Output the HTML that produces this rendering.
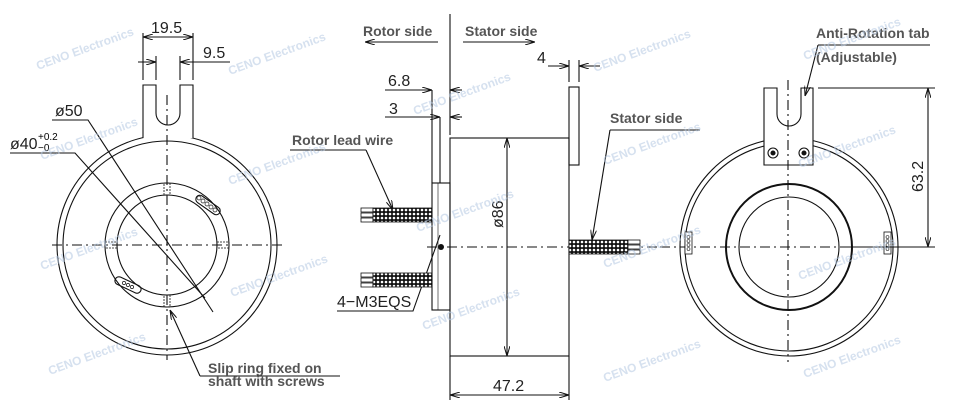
<!DOCTYPE html>
<html><head><style>
html,body{margin:0;padding:0;background:#fff;}
svg{display:block;}
text{font-family:"Liberation Sans",sans-serif;}
.b{font-weight:bold;fill:#555;font-size:14px;}
.d{fill:#222;font-size:16px;}
</style></head><body>
<svg width="953" height="418" viewBox="0 0 953 418" xmlns="http://www.w3.org/2000/svg">
<defs>
<pattern id="br" width="4" height="4" patternUnits="userSpaceOnUse">
<rect width="4" height="4" fill="#111"/><circle cx="2" cy="2" r="1.3" fill="#fff"/>
</pattern>
<marker id="a" markerWidth="10" markerHeight="6" refX="10" refY="3" orient="auto" markerUnits="userSpaceOnUse">
<path d="M0,0 L10,3 L0,6" fill="none" stroke="#111" stroke-width="1"/>
</marker>
</defs>
<g fill="none" stroke="#111" stroke-width="1.1">
<!-- LEFT VIEW -->
<circle cx="167" cy="245" r="110"/>
<circle cx="167" cy="245" r="104"/>
<circle cx="167" cy="245" r="62"/>
<circle cx="167" cy="245" r="50"/>
<path d="M143,138 V85 H156 V113 A12,12 0 0 0 180,113 V85 H193 V138" fill="#fff"/>
<line x1="167" y1="95" x2="167" y2="360" stroke-dasharray="10,4,2,4"/>
<line x1="52" y1="245" x2="285" y2="245" stroke-dasharray="10,4,2,4"/>
<line x1="143" y1="33" x2="143" y2="80"/><line x1="193" y1="33" x2="193" y2="80"/>
<line x1="156" y1="56" x2="156" y2="80"/><line x1="180" y1="56" x2="180" y2="80"/>
<line x1="168" y1="37" x2="143" y2="37" marker-end="url(#a)"/><line x1="168" y1="37" x2="193" y2="37" marker-end="url(#a)"/>
<line x1="138" y1="62" x2="156" y2="62" marker-end="url(#a)"/><line x1="230" y1="62" x2="180" y2="62" marker-end="url(#a)"/>
<polyline points="52,120 88,120 213,312"/>
<polyline points="10,153 75,153 205,298"/>
<line x1="340" y1="376" x2="200" y2="376"/><line x1="200" y1="376" x2="170" y2="310" marker-end="url(#a)"/>
<g stroke-width="0.8" stroke-dasharray="2,1">
<rect x="164" y="183" width="6" height="12"/><rect x="164" y="295" width="6" height="12"/>
<rect x="105" y="242" width="12" height="6"/><rect x="217" y="242" width="12" height="6"/>
</g>
<rect x="194" y="201" width="28" height="8" rx="4" transform="rotate(35 208 205)"/>
<rect x="114" y="281" width="28" height="8" rx="4" transform="rotate(25 128 285)"/>
<g stroke-width="0.7">
<circle cx="199" cy="198" r="2"/><circle cx="203" cy="201" r="2"/><circle cx="207" cy="204" r="2"/><circle cx="211" cy="207" r="2"/><circle cx="215" cy="210" r="2"/>
<circle cx="124" cy="283" r="1.6"/><circle cx="128" cy="285" r="1.6"/><circle cx="132" cy="287" r="1.6"/>
</g>
<!-- MIDDLE VIEW -->
<line x1="450" y1="14" x2="450" y2="135"/>
<rect x="450" y="138" width="119" height="218"/>
<rect x="569" y="87" width="10" height="78"/>
<rect x="432" y="183" width="18" height="127"/>
<line x1="438" y1="183" x2="438" y2="310" stroke-width="0.6"/>
<line x1="432" y1="90" x2="432" y2="183"/><line x1="440" y1="117" x2="440" y2="183"/>
<line x1="438" y1="42" x2="365" y2="42" marker-end="url(#a)"/>
<line x1="463" y1="42" x2="535" y2="42" marker-end="url(#a)"/>
<line x1="569" y1="60" x2="569" y2="82"/><line x1="579" y1="60" x2="579" y2="82"/>
<line x1="548" y1="66" x2="569" y2="66" marker-end="url(#a)"/><line x1="600" y1="66" x2="579" y2="66" marker-end="url(#a)"/>
<line x1="385" y1="90" x2="432" y2="90" marker-end="url(#a)"/><line x1="462" y1="90" x2="450" y2="90" marker-end="url(#a)"/>
<line x1="385" y1="117" x2="440" y2="117" marker-end="url(#a)"/><line x1="462" y1="117" x2="450" y2="117" marker-end="url(#a)"/>
<line x1="507" y1="247" x2="507" y2="138" marker-end="url(#a)"/><line x1="507" y1="247" x2="507" y2="356" marker-end="url(#a)"/>
<line x1="450" y1="356" x2="450" y2="400"/><line x1="569" y1="356" x2="569" y2="400"/>
<line x1="510" y1="395" x2="450" y2="395" marker-end="url(#a)"/><line x1="510" y1="395" x2="569" y2="395" marker-end="url(#a)"/>
<line x1="427" y1="247" x2="670" y2="247" stroke-dasharray="10,4,2,4"/>
<polyline points="337,311 413,311 440,235"/>
<line x1="290" y1="150" x2="366" y2="150"/><line x1="366" y1="150" x2="393" y2="210" marker-end="url(#a)"/>
<line x1="700" y1="130" x2="610" y2="130"/><line x1="610" y1="130" x2="592" y2="240" marker-end="url(#a)"/>
<!-- RIGHT VIEW -->
<circle cx="789" cy="247" r="109"/>
<circle cx="789" cy="247" r="104"/>
<circle cx="789" cy="247" r="63" stroke-width="2"/>
<circle cx="789" cy="247" r="50"/>
<path d="M764,165 V88 H777 V114 A12,12 0 0 0 801,114 V88 H813 V165 Z" fill="#fff"/>
<circle cx="773" cy="153" r="5"/><circle cx="773" cy="153" r="2" fill="#111"/>
<circle cx="804" cy="153" r="5"/><circle cx="804" cy="153" r="2" fill="#111"/>
<line x1="788" y1="80" x2="788" y2="362" stroke-dasharray="10,4,2,4"/>
<line x1="660" y1="247" x2="900" y2="247" stroke-dasharray="10,4,2,4"/>
<rect x="685" y="232" width="7" height="22" stroke-width="0.8" fill="#fff"/>
<rect x="884" y="232" width="7" height="22" stroke-width="0.8" fill="#fff"/>
<g stroke-width="0.6">
<circle cx="688.5" cy="237" r="1.5"/><circle cx="688.5" cy="241" r="1.5"/><circle cx="688.5" cy="245" r="1.5"/><circle cx="688.5" cy="249" r="1.5"/>
<circle cx="887.5" cy="237" r="1.5"/><circle cx="887.5" cy="241" r="1.5"/><circle cx="887.5" cy="245" r="1.5"/><circle cx="887.5" cy="249" r="1.5"/>
</g>
<line x1="818" y1="88" x2="935" y2="88"/><line x1="840" y1="247" x2="935" y2="247"/>
<line x1="928" y1="170" x2="928" y2="88" marker-end="url(#a)"/><line x1="928" y1="170" x2="928" y2="247" marker-end="url(#a)"/>
<line x1="930" y1="45" x2="818" y2="45"/><line x1="818" y1="45" x2="805" y2="96" marker-end="url(#a)"/>
</g>
<g stroke="#111" stroke-width="0.8">
<rect x="361" y="208" width="12" height="4" fill="#fff"/><rect x="361" y="213" width="12" height="4" fill="#fff"/><rect x="361" y="218" width="12" height="4" fill="#fff"/>
<rect x="373" y="208" width="59" height="14" fill="url(#br)"/>
<rect x="361" y="273" width="12" height="4" fill="#fff"/><rect x="361" y="278" width="12" height="4" fill="#fff"/><rect x="361" y="283" width="12" height="4" fill="#fff"/>
<rect x="373" y="273" width="59" height="14" fill="url(#br)"/>
<rect x="569" y="240" width="59" height="14" fill="url(#br)"/>
<rect x="628" y="240" width="12" height="4" fill="#fff"/><rect x="628" y="245" width="12" height="4" fill="#fff"/><rect x="628" y="250" width="12" height="4" fill="#fff"/>
</g>
<circle cx="441" cy="247" r="3" fill="#111"/>
<text class="d" x="151" y="33">19.5</text>
<text class="d" x="203" y="58">9.5</text>
<text class="d" x="55" y="116">ø50</text>
<text class="d" x="10" y="149">ø40</text>
<text x="38" y="140" font-size="10">+0.2</text><text x="38" y="151" font-size="10">−0</text>
<text class="b" x="208" y="373">Slip ring fixed on</text>
<text class="b" x="208" y="386">shaft with screws</text>
<text class="b" x="363" y="36">Rotor side</text>
<text class="b" x="465" y="36">Stator side</text>
<text class="d" x="537" y="63">4</text>
<text class="d" x="388" y="86">6.8</text>
<text class="d" x="389" y="114">3</text>
<text class="b" x="292" y="145">Rotor lead wire</text>
<text class="d" x="337" y="307">4−M3EQS</text>
<text class="d" transform="translate(503,228) rotate(-90)">ø86</text>
<text class="d" x="493" y="391">47.2</text>
<text class="b" x="610" y="123">Stator side</text>
<text class="b" x="816" y="38">Anti-Rotation tab</text>
<text class="b" x="816" y="62">(Adjustable)</text>
<text class="d" transform="translate(923,192) rotate(-90)">63.2</text>
<g fill="#b4c8e2" opacity="0.55" font-size="12" font-weight="bold">
<text transform="translate(38,70) rotate(-20)">CENO Electronics</text>
<text transform="translate(230,75) rotate(-20)">CENO Electronics</text>
<text transform="translate(42,160) rotate(-20)">CENO Electronics</text>
<text transform="translate(230,185) rotate(-20)">CENO Electronics</text>
<text transform="translate(42,270) rotate(-20)">CENO Electronics</text>
<text transform="translate(232,297) rotate(-20)">CENO Electronics</text>
<text transform="translate(50,375) rotate(-20)">CENO Electronics</text>
<text transform="translate(415,115) rotate(-20)">CENO Electronics</text>
<text transform="translate(418,232) rotate(-20)">CENO Electronics</text>
<text transform="translate(424,330) rotate(-20)">CENO Electronics</text>
<text transform="translate(595,72) rotate(-20)">CENO Electronics</text>
<text transform="translate(605,165) rotate(-20)">CENO Electronics</text>
<text transform="translate(605,268) rotate(-20)">CENO Electronics</text>
<text transform="translate(605,382) rotate(-20)">CENO Electronics</text>
<text transform="translate(805,60) rotate(-20)">CENO Electronics</text>
<text transform="translate(800,168) rotate(-20)">CENO Electronics</text>
<text transform="translate(800,280) rotate(-20)">CENO Electronics</text>
<text transform="translate(805,378) rotate(-20)">CENO Electronics</text>
</g>
</svg>
</body></html>
